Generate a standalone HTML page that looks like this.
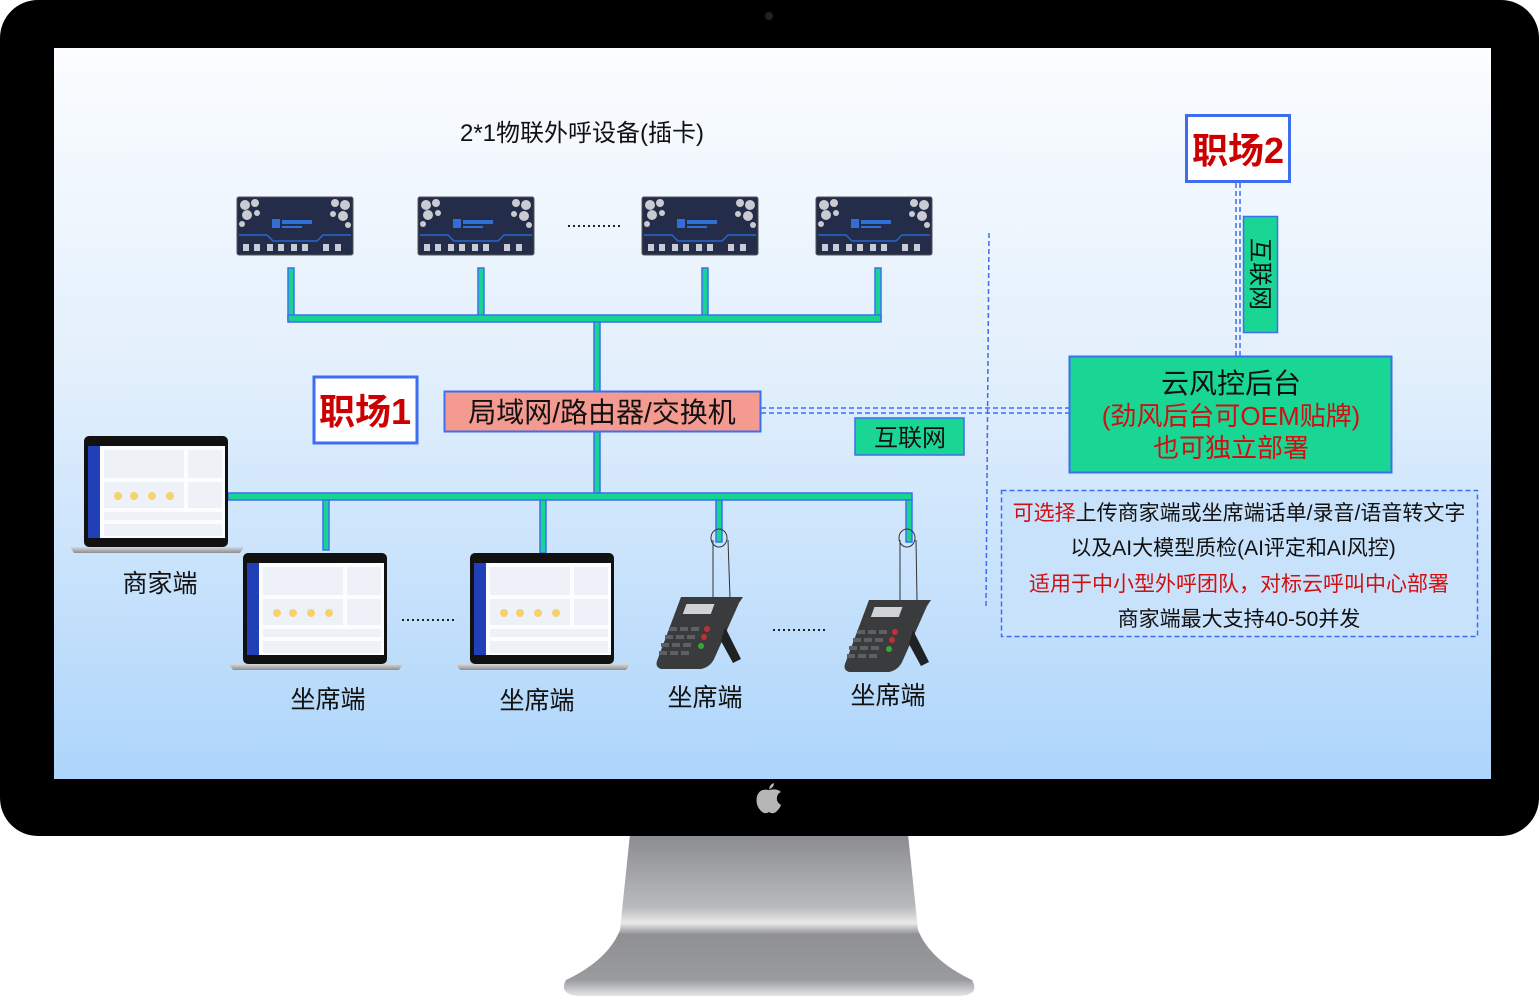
<!DOCTYPE html>
<html><head><meta charset="utf-8"><style>
html,body{margin:0;padding:0;background:#fff;}
svg{display:block;font-family:"Liberation Sans","Noto Sans CJK SC",sans-serif;}
</style></head><body>
<svg width="1539" height="1000" viewBox="0 0 1539 1000" xmlns="http://www.w3.org/2000/svg">
<defs>
<linearGradient id="scr" x1="0" y1="0" x2="0" y2="1">
<stop offset="0" stop-color="#fbfdff"/><stop offset="0.45" stop-color="#e2effc"/><stop offset="1" stop-color="#add5fb"/>
</linearGradient>
<linearGradient id="stand" x1="0" y1="0" x2="0" y2="1">
<stop offset="0" stop-color="#8a8b8f"/><stop offset="0.45" stop-color="#b9babd"/><stop offset="0.55" stop-color="#eaeaea"/><stop offset="0.62" stop-color="#8f9094"/><stop offset="0.9" stop-color="#9a9b9f"/><stop offset="1" stop-color="#e6e6e6"/>
</linearGradient>
<linearGradient id="base" x1="0" y1="0" x2="0" y2="1">
<stop offset="0" stop-color="#d8d9db"/><stop offset="1" stop-color="#8d8e92"/>
</linearGradient>
<g id="dev">
<rect x="0" y="0" width="116" height="58" rx="2" fill="#232c48"/>
<rect x="0" y="0" width="116" height="58" rx="2" fill="none" stroke="#555" stroke-width="1"/>
<g fill="#c9cbd0"><circle cx="8" cy="8" r="5"/><circle cx="18" cy="6" r="4"/><circle cx="10" cy="18" r="5"/><circle cx="5" cy="27" r="3"/><circle cx="20" cy="16" r="3"/>
<circle cx="108" cy="8" r="5"/><circle cx="98" cy="6" r="4"/><circle cx="106" cy="19" r="5"/><circle cx="111" cy="28" r="3"/><circle cx="96" cy="17" r="3"/></g>
<rect x="35" y="22" width="8" height="9" fill="#2f6fd6"/>
<rect x="45" y="23" width="30" height="4" fill="#2f6fd6"/><rect x="45" y="29" width="20" height="2" fill="#2f6fd6"/>
<path d="M2 38 H30 L36 44 H80 L86 38 H114" stroke="#2a66d0" stroke-width="1.5" fill="none"/>
<g fill="#c8ccd6"><rect x="6" y="47" width="6" height="7"/><rect x="17" y="47" width="6" height="7"/><rect x="30" y="47" width="6" height="7"/><rect x="41" y="47" width="6" height="7"/><rect x="54" y="47" width="6" height="7"/><rect x="65" y="47" width="6" height="7"/><rect x="86" y="47" width="6" height="7"/><rect x="98" y="47" width="6" height="7"/></g>
</g>
<g id="lap">
<rect x="14" y="0" width="144" height="111" rx="5" fill="#111"/>
<rect x="18" y="10" width="137" height="92" fill="#fcfdff"/>
<rect x="18" y="10" width="12" height="92" fill="#2140b8"/>
<g fill="#eef2f8"><rect x="34" y="14" width="80" height="28"/><rect x="118" y="14" width="34" height="28"/><rect x="34" y="46" width="80" height="26"/><rect x="118" y="46" width="34" height="26"/><rect x="34" y="76" width="118" height="8"/><rect x="34" y="88" width="118" height="12"/></g>
<g fill="#f5d26a"><circle cx="48" cy="60" r="4"/><circle cx="64" cy="60" r="4"/><circle cx="82" cy="60" r="4"/><circle cx="100" cy="60" r="4"/></g>
<path d="M0 111 H174 L170 117 H4 Z" fill="url(#base)"/>
</g>
<g id="phone">
<path d="M26 0 H88 L84 6 L60 60 Q56 70 46 72 H6 Q0 70 2 64 Z" fill="#3a3b3d"/>
<path d="M70 30 L86 62 L78 66 L66 44 Z" fill="#202123"/>
<rect x="34" y="7" width="28" height="10" fill="#cfd3d6" transform="skewX(-20)"/>
<g fill="#5e6063"><rect x="14" y="30" width="8" height="4"/><rect x="25" y="30" width="8" height="4"/><rect x="36" y="30" width="8" height="4"/><rect x="10" y="38" width="8" height="4"/><rect x="21" y="38" width="8" height="4"/><rect x="32" y="38" width="8" height="4"/><rect x="6" y="46" width="8" height="4"/><rect x="17" y="46" width="8" height="4"/><rect x="28" y="46" width="8" height="4"/><rect x="4" y="54" width="8" height="4"/><rect x="15" y="54" width="8" height="4"/><rect x="26" y="54" width="8" height="4"/></g>
<circle cx="52" cy="32" r="3" fill="#c0303a"/><circle cx="49" cy="40" r="3" fill="#c0303a"/><circle cx="46" cy="49" r="3" fill="#3aa53a"/>
</g>
</defs>

<path d="M630 834 H908 L918 930 Q930 960 972 980 Q980 995 960 996 H580 Q558 995 566 980 Q608 960 620 930 Z" fill="url(#stand)"/>
<rect x="0" y="0" width="1539" height="836" rx="38" fill="#000"/>
<rect x="54" y="48" width="1437" height="731" fill="url(#scr)"/>
<circle cx="769" cy="16" r="4" fill="#222"/>
<path d="M769 790 q-9 -2 -12 6 q-2 9 4 15 q4 4 8 1 q4 3 8 -1 q3 -3 4 -6 q-5 -3 -4 -8 q1 -4 4 -5 q-4 -4 -12 -2 z M769 789 q1 -5 5 -6 q0 5 -5 6z" fill="#b5b6b8"/>

<text x="582" y="141" font-size="24" text-anchor="middle" fill="#111">2*1物联外呼设备(插卡)</text>

<use href="#dev" x="237" y="197"/>
<use href="#dev" x="418" y="197"/>
<use href="#dev" x="642" y="197"/>
<use href="#dev" x="816" y="197"/>
<line x1="568" y1="226" x2="622" y2="226" stroke="#222" stroke-width="2" stroke-dasharray="2,3"/>

<g fill="#18d492" stroke="#3d6ef0" stroke-width="1.5">
<rect x="288" y="268" width="6" height="52"/>
<rect x="478" y="268" width="6" height="52"/>
<rect x="702" y="268" width="6" height="52"/>
<rect x="875" y="268" width="6" height="52"/>
<rect x="288" y="315" width="593" height="7"/>
<rect x="594" y="322" width="6" height="70"/>
<rect x="594" y="432" width="6" height="61"/>
<rect x="228" y="493" width="684" height="7"/>
<rect x="323" y="500" width="6" height="50"/>
<rect x="540" y="500" width="6" height="53"/>
<rect x="716" y="500" width="6" height="42"/>
<rect x="906" y="500" width="6" height="42"/>
</g>

<g stroke="#3d6ef0" stroke-width="1.5" stroke-dasharray="5,3" fill="none">
<line x1="761" y1="408" x2="1069" y2="408"/>
<line x1="761" y1="413" x2="1069" y2="413"/>
<line x1="989" y1="233" x2="986" y2="606"/>
<line x1="1236" y1="183" x2="1236" y2="356"/>
<line x1="1240" y1="183" x2="1240" y2="356"/>
</g>

<rect x="444.5" y="391.5" width="316" height="40" fill="#f59a90" stroke="#3d6ef0" stroke-width="2"/>
<text x="602" y="422" font-size="28" text-anchor="middle" fill="#111">局域网/路由器/交换机</text>

<rect x="314" y="377" width="103" height="66" fill="#fff" stroke="#3d6ef0" stroke-width="3"/>
<text x="365" y="424" font-size="36" font-weight="bold" text-anchor="middle" fill="#c00">职场1</text>

<rect x="855" y="418" width="109" height="37" fill="#1ad694" stroke="#3d6ef0" stroke-width="1.5"/>
<text x="910" y="446" font-size="24" text-anchor="middle" fill="#111">互联网</text>

<rect x="1186.5" y="115.5" width="103" height="66" fill="#fff" stroke="#3d6ef0" stroke-width="3"/>
<text x="1238" y="163" font-size="36" font-weight="bold" text-anchor="middle" fill="#c00">职场2</text>

<rect x="1243.5" y="216.5" width="34" height="116" fill="#1ad694" stroke="#3d6ef0" stroke-width="1.5"/>
<text transform="translate(1252,274) rotate(90)" font-size="24" text-anchor="middle" fill="#111">互联网</text>

<rect x="1069.5" y="356.5" width="322" height="116" fill="#1ad694" stroke="#3d6ef0" stroke-width="2"/>
<text x="1231" y="393" font-size="28" text-anchor="middle" fill="#111">云风控后台</text>
<text x="1231" y="425" font-size="26" text-anchor="middle" fill="#d01010">(劲风后台可OEM贴牌)</text>
<text x="1231" y="457" font-size="26" text-anchor="middle" fill="#d01010">也可独立部署</text>

<rect x="1001.5" y="490.5" width="476" height="146" fill="#c9e2fb" stroke="#3d6ef0" stroke-width="1.5" stroke-dasharray="5,3"/>
<text x="1239" y="520" font-size="21" text-anchor="middle" fill="#111"><tspan fill="#d01010">可选择</tspan>上传商家端或坐席端话单/录音/语音转文字</text>
<text x="1233" y="555" font-size="21" text-anchor="middle" fill="#111">以及AI大模型质检(AI评定和AI风控)</text>
<text x="1239" y="591" font-size="21" text-anchor="middle" fill="#d01010">适用于中小型外呼团队，对标云呼叫中心部署</text>
<text x="1239" y="626" font-size="21" text-anchor="middle" fill="#111">商家端最大支持40-50并发</text>

<use href="#lap" x="70" y="436"/>
<use href="#lap" x="229" y="553"/>
<use href="#lap" x="456" y="553"/>
<line x1="402" y1="620" x2="456" y2="620" stroke="#222" stroke-width="2" stroke-dasharray="2,3"/>

<g stroke="#333" stroke-width="1" fill="none">
<ellipse cx="719" cy="538" rx="8" ry="9"/><line x1="713" y1="540" x2="713" y2="598"/><line x1="728" y1="540" x2="730" y2="598"/>
<ellipse cx="907" cy="538" rx="8" ry="9"/><line x1="900" y1="540" x2="900" y2="600"/><line x1="916" y1="540" x2="917" y2="600"/>
</g>
<use href="#phone" x="655" y="597"/>
<use href="#phone" x="843" y="600"/>
<line x1="773" y1="630" x2="826" y2="630" stroke="#222" stroke-width="2" stroke-dasharray="2,3"/>

<g font-size="25" text-anchor="middle" fill="#111">
<text x="160" y="592">商家端</text>
<text x="328" y="708">坐席端</text>
<text x="537" y="709">坐席端</text>
<text x="705" y="706">坐席端</text>
<text x="888" y="704">坐席端</text>
</g>
</svg>
</body></html>
